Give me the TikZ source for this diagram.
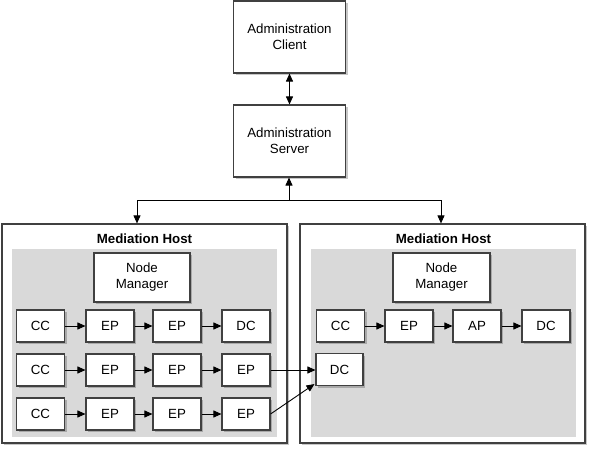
\documentclass[tikz,border=0pt]{standalone}
\usepackage{fontspec}
\setmainfont{Liberation Sans}
\usetikzlibrary{shadows,arrows.meta,calc}
\definecolor{bordc}{HTML}{404040}
\definecolor{inner}{HTML}{D9D9D9}
\tikzset{
  box/.style={draw=bordc, line width=1.1pt, fill=white, inner sep=0pt, align=center,
    font=\fontsize{13.3}{16}\selectfont,
    drop shadow={shadow xshift=2.2pt, shadow yshift=-2.2pt, fill=black, opacity=0.22}},
  small/.style={box, minimum width=48pt, minimum height=32pt},
  hostbox/.style={draw=bordc, line width=1.2pt, fill=white, minimum width=285pt, minimum height=219pt,
    drop shadow={shadow xshift=2.2pt, shadow yshift=-2.2pt, fill=black, opacity=0.22}},
  innerarea/.style={fill=inner, minimum width=265pt, minimum height=188pt, inner sep=0pt},
  arr/.style={draw=black, line width=0.9pt, -{Triangle[length=8pt, width=7pt]}},
  arrb/.style={draw=black, line width=0.9pt, {Triangle[length=8pt, width=7pt]}-{Triangle[length=8pt, width=7pt]}},
  title/.style={font=\bfseries\fontsize{13.3}{16}\selectfont}
}
\begin{document}
\begin{tikzpicture}[x=1pt,y=-1pt]
\useasboundingbox (0,0) rectangle (589,448);
% hosts
\node[hostbox] (h1) at (144.5,333.5) {};
\node[hostbox] (h2) at (442.5,333.5) {};
\node[innerarea] (g1) at (144.5,343) {};
\node[innerarea] (g2) at (443,343) {};
\node[title] (t1) at (144.5,239) {Mediation Host};
\node[title] (t2) at (443.5,239) {Mediation Host};
% admin
\node[box, minimum width=112pt, minimum height=72pt] (ac) at (289.5,37) {Administration\\Client};
\node[box, minimum width=112pt, minimum height=72pt] (as) at (289.5,141) {Administration\\Server};
% node managers
\node[box, minimum width=96pt, minimum height=49pt] (nm1) at (142,277.5) {Node\\Manager};
\node[box, minimum width=97pt, minimum height=49pt] (nm2) at (441.5,277.5) {Node\\Manager};
% left rows
\node[small] (a1) at (40.5,326) {CC};
\node[small] (a2) at (110,326) {EP};
\node[small] (a3) at (177,326) {EP};
\node[small] (a4) at (246,326) {DC};
\node[small] (b1) at (40.5,370) {CC};
\node[small] (b2) at (110,370) {EP};
\node[small] (b3) at (177,370) {EP};
\node[small] (b4) at (246,370) {EP};
\node[small] (c1) at (40.5,414) {CC};
\node[small] (c2) at (110,414) {EP};
\node[small] (c3) at (177,414) {EP};
\node[small] (c4) at (246,414) {EP};
% right rows
\node[small] (d1) at (340.5,326) {CC};
\node[small] (d2) at (409,326) {EP};
\node[small] (d3) at (477,326) {AP};
\node[small] (d4) at (546,326) {DC};
\node[small, minimum width=47pt] (e1) at (339.5,369.5) {DC};
% connectors
\draw[arrb] (ac) -- (as);
\coordinate (jm) at (289,200);
\coordinate (jl) at (137,200);
\coordinate (jr) at (441,200);
\draw[arr] (jm) -- (as.south -| jm);
\draw[line width=0.9pt] (jl) -- (jr);
\draw[arr] (jl) -- (jl |- h1.north);
\draw[arr] (jr) -- (jr |- h2.north);
\foreach \p/\q in {a1/a2,a2/a3,a3/a4,b1/b2,b2/b3,b3/b4,c1/c2,c2/c3,c3/c4,d1/d2,d2/d3,d3/d4}{
  \draw[arr] (\p) -- (\q);
}
\draw[arr] (b4.east) -- (e1.west |- b4.east);
\draw[arr] (c4.east) -- ($(e1.south west)+(-1,-2)$);
\end{tikzpicture}
\end{document}
